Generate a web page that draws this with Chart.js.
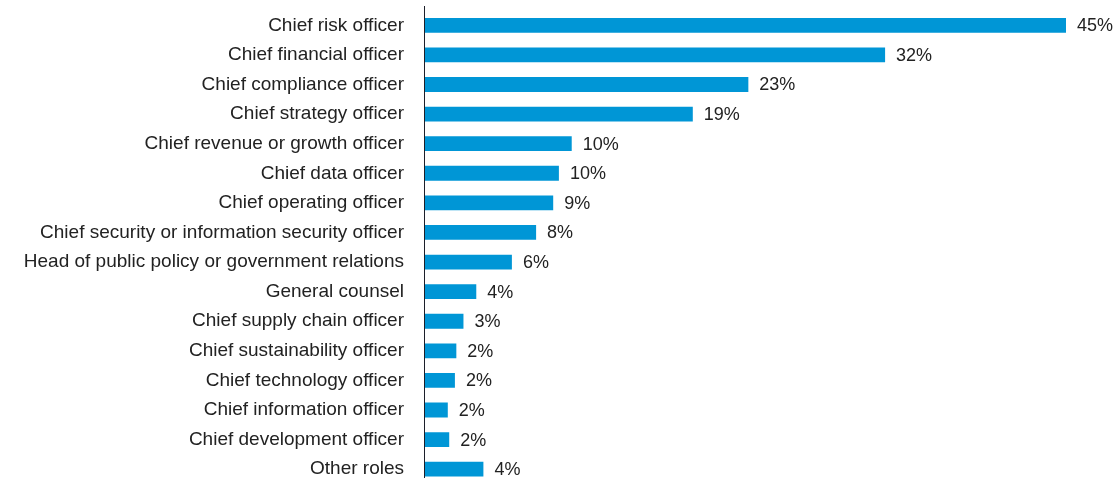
<!DOCTYPE html>
<html>
<head>
<meta charset="utf-8">
<script src="https://cdn.jsdelivr.net/npm/chart.js@4"></script>
<style>
  html, body { margin: 0; padding: 0; background: #fff; overflow: hidden; }
  #wrap { width: 1115px; height: 484px; position: relative; }
</style>
</head>
<body>
<div id="wrap"><canvas id="rolesChart"></canvas></div>
<script>
/* Chart data */
const categories = [
  'Chief risk officer',
  'Chief financial officer',
  'Chief compliance officer',
  'Chief strategy officer',
  'Chief revenue or growth officer',
  'Chief data officer',
  'Chief operating officer',
  'Chief security or information security officer',
  'Head of public policy or government relations',
  'General counsel',
  'Chief supply chain officer',
  'Chief sustainability officer',
  'Chief technology officer',
  'Chief information officer',
  'Chief development officer',
  'Other roles'
];
const values = [45, 32.3, 22.7, 18.8, 10.3, 9.4, 9.0, 7.8, 6.1, 3.6, 2.7, 2.2, 2.1, 1.6, 1.7, 4.1];
const valueLabels = ['45%', '32%', '23%', '19%', '10%', '10%', '9%', '8%', '6%', '4%', '3%', '2%', '2%', '2%', '2%', '4%'];

const barColor = '#0096d6';
const textColor = '#222222';
const fontFamily = '"Liberation Sans", Arial, sans-serif';

/* Value labels at the end of each bar */
const valueLabelPlugin = {
  id: 'valueLabels',
  afterDatasetsDraw(chart) {
    const ctx = chart.ctx;
    const meta = chart.getDatasetMeta(0);
    ctx.save();
    ctx.font = '18px ' + fontFamily;
    ctx.fillStyle = textColor;
    ctx.textAlign = 'left';
    ctx.textBaseline = 'middle';
    meta.data.forEach((bar, i) => {
      ctx.fillText(valueLabels[i], bar.x + 11, bar.y + 1);
    });
    ctx.restore();
  }
};

/* Vertical axis line */
const axisLinePlugin = {
  id: 'axisLine',
  afterDraw(chart) {
    const ctx = chart.ctx;
    const x = chart.chartArea.left - 0.5;
    ctx.save();
    ctx.strokeStyle = '#1c1f2a';
    ctx.lineWidth = 1;
    ctx.beginPath();
    ctx.moveTo(x, 6);
    ctx.lineTo(x, chart.height);
    ctx.stroke();
    ctx.restore();
  }
};

const el = document.getElementById('rolesChart');
new Chart(el, {
  type: 'bar',
  data: {
    labels: categories,
    datasets: [{
      data: values,
      backgroundColor: barColor,
      borderWidth: 0,
      barPercentage: 0.5,
      categoryPercentage: 1
    }]
  },
  options: {
    indexAxis: 'y',
    responsive: true,
    maintainAspectRatio: false,
    animation: false,
    layout: { padding: { top: 10.5, right: 49, bottom: 0, left: 0 } },
    plugins: {
      legend: { display: false },
      tooltip: { enabled: false }
    },
    scales: {
      x: {
        min: 0,
        max: 45,
        display: false
      },
      y: {
        grid: { display: false, drawTicks: false },
        border: { display: false },
        ticks: {
          color: textColor,
          padding: 21,
          font: { family: fontFamily, size: 19 }
        },
        afterFit(scale) {
          scale.width = 425;
          scale.paddingTop = 0;
          scale.paddingBottom = 0;
        }
      }
    }
  },
  plugins: [valueLabelPlugin, axisLinePlugin]
});
</script>
</body>
</html>
